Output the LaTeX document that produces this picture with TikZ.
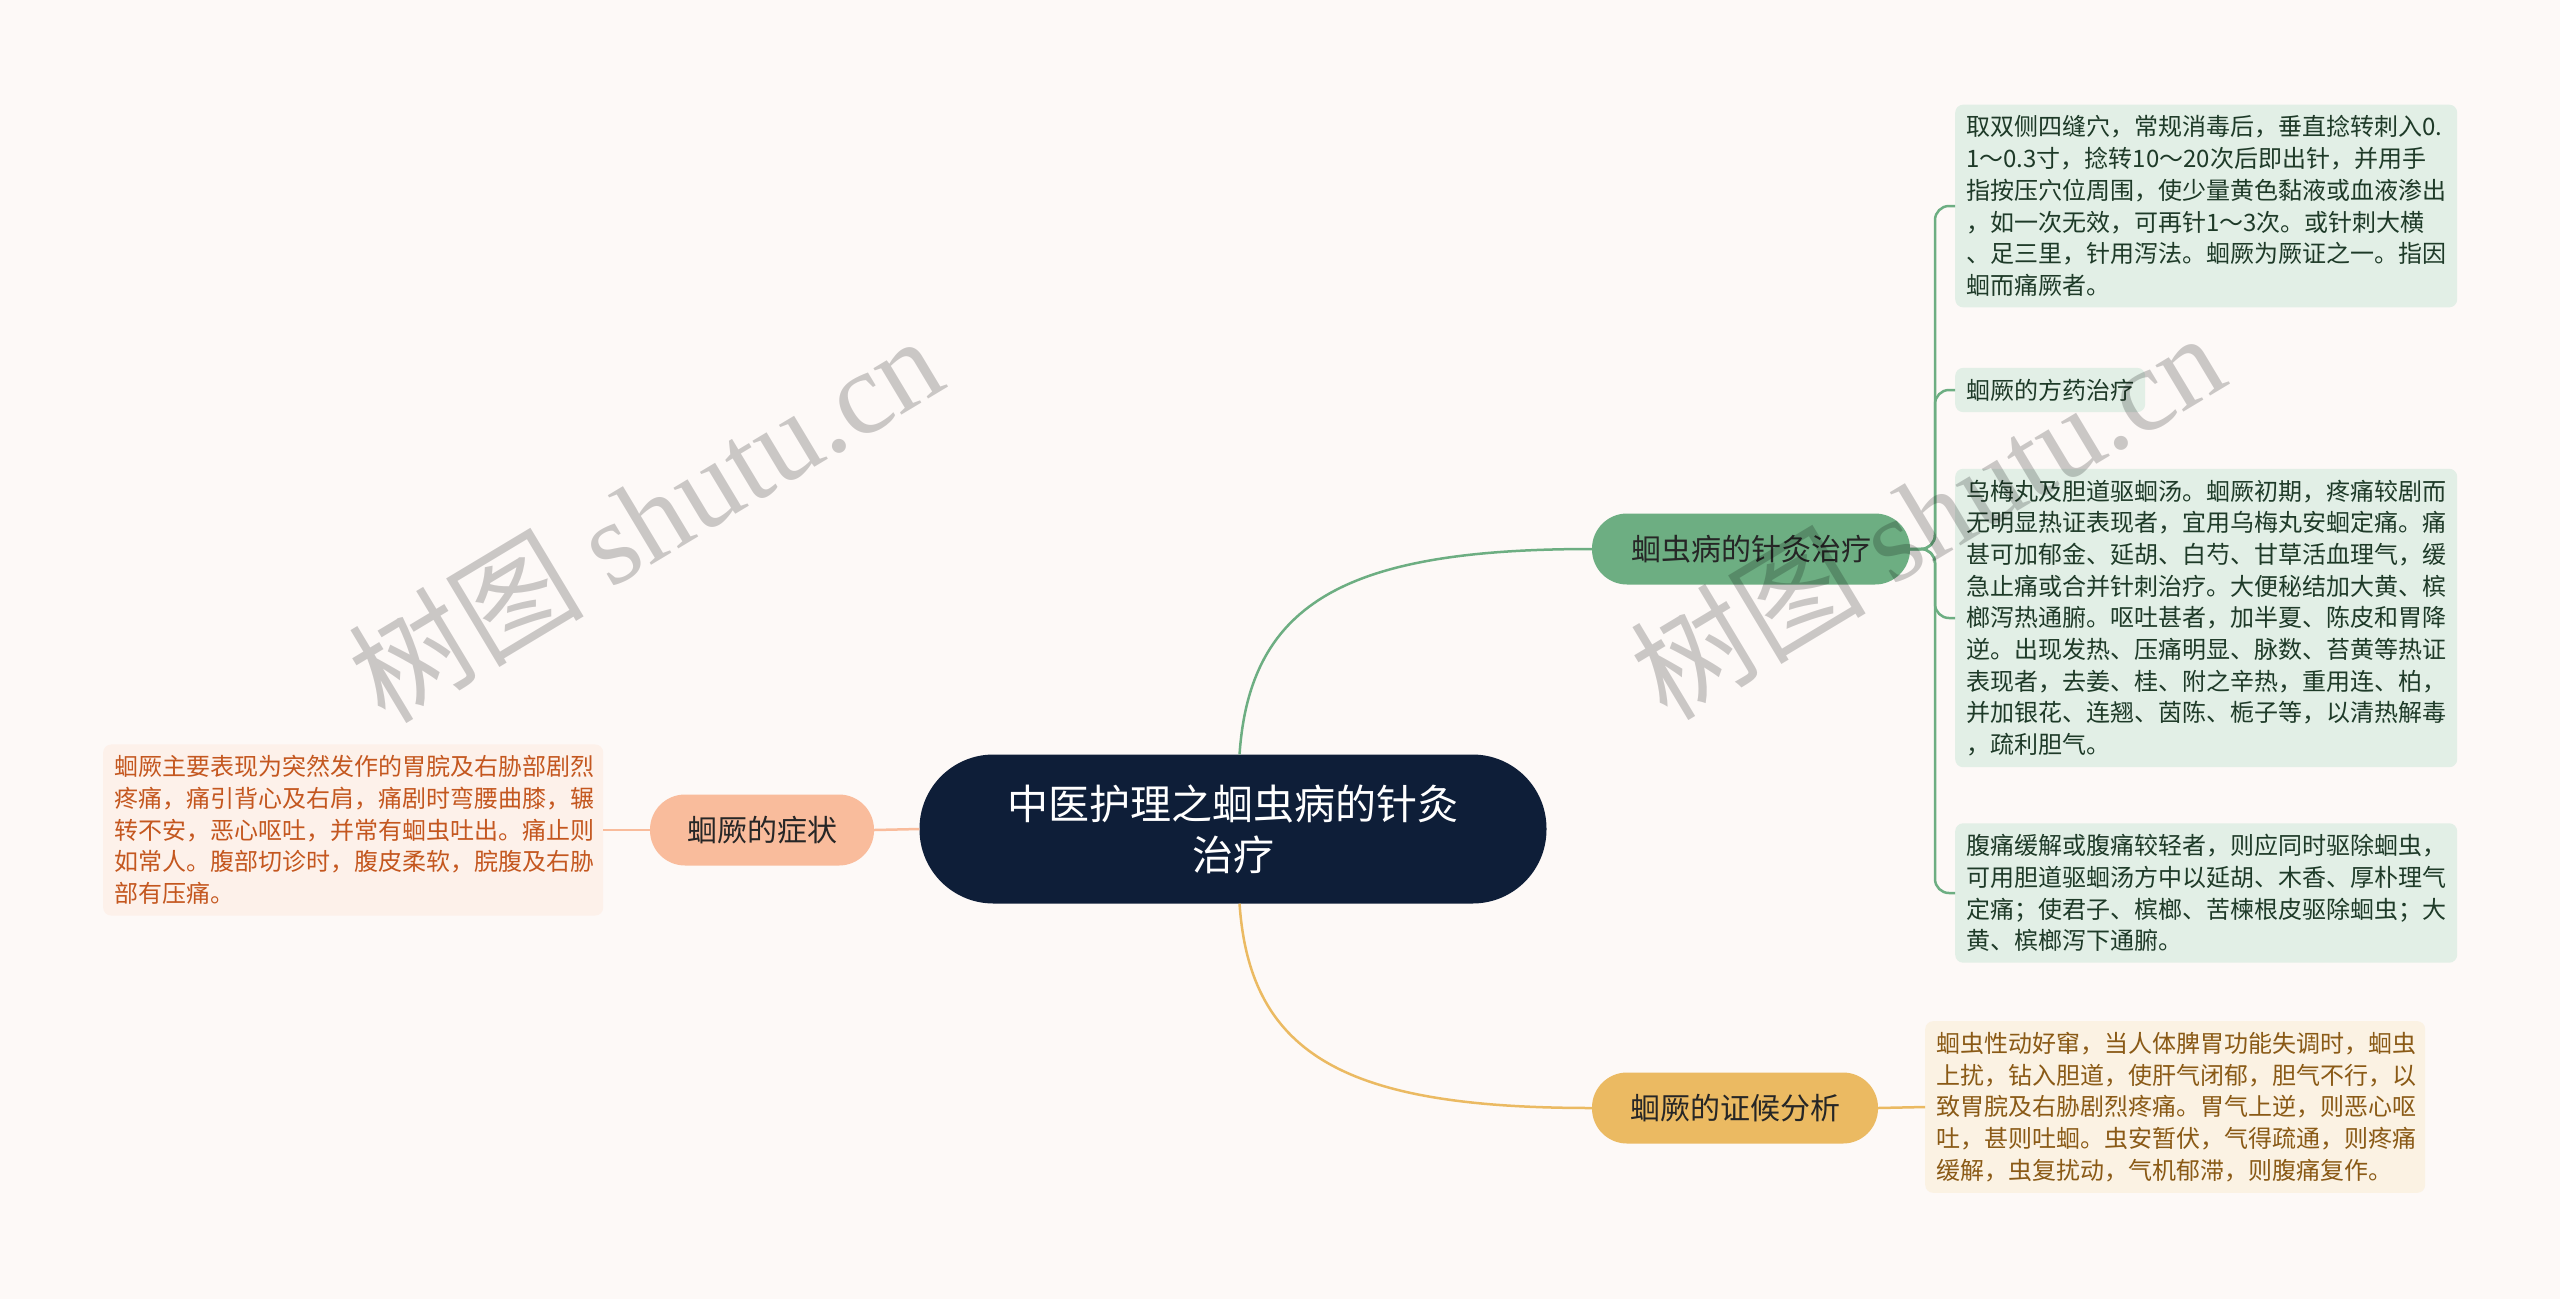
\documentclass[tikz,border=0pt]{standalone}
\usepackage{fontspec}
\setmainfont{Noto Sans CJK SC}
\newfontfamily\wmfont{Liberation Serif}

\definecolor{bgpaper}{HTML}{FDF9F7}
\definecolor{rootblue}{HTML}{0E1E38}
\definecolor{acugreen}{HTML}{6DAE82}
\definecolor{aculeaf}{HTML}{E2EFE6}
\definecolor{acutext}{HTML}{1E3A28}
\definecolor{syngold}{HTML}{EBBA62}
\definecolor{synleaf}{HTML}{FBF2E3}
\definecolor{syntext}{HTML}{8A5A16}
\definecolor{sympeach}{HTML}{F9BC9C}
\definecolor{symleaf}{HTML}{FDF1EA}
\definecolor{symtext}{HTML}{C4571F}

\begin{document}
\begin{tikzpicture}[x=1pt,y=-1pt,
	branch/.style={rounded corners=35pt,minimum height=71pt,inner xsep=0pt,font=\fontsize{30}{36}\selectfont},
	leaf/.style={rounded corners=8pt,align=left,anchor=west,inner xsep=11pt,inner ysep=11pt,font=\fontsize{24}{31.7}\selectfont},
	link/.style={line width=2.5pt},
	watermark/.style={rotate=31,text=black,text opacity=0.2,font=\fontsize{118}{118}\selectfont}]

	\useasboundingbox (0,0) rectangle (2560,1299);
	\fill[bgpaper] (0,0) rectangle (2560,1299);

	\node[fill=rootblue,text=white,rounded corners=74pt,minimum width=627pt,minimum height=149pt,align=center,font=\fontsize{41}{51}\selectfont] (root) at (1233,829) {中医护理之蛔虫病的针灸\\治疗};

	\node[branch,fill=acugreen,text=black!85,minimum width=318pt] (acu) at (1751,549) {蛔虫病的针灸治疗};
	\node[branch,fill=syngold,text=black!85,minimum width=286pt] (syn) at (1735,1108) {蛔厥的证候分析};
	\node[branch,fill=sympeach,text=black!85,minimum width=224pt] (sym) at (762,830) {蛔厥的症状};

	% acupuncture leaves
	\node[leaf,fill=aculeaf,text=acutext,text width=480pt] (t1) at (1955,206) {取双侧四缝穴，常规消毒后，垂直捻转刺入0.\\1～0.3寸，捻转10～20次后即出针，并用手\\指按压穴位周围，使少量黄色黏液或血液渗出\\，如一次无效，可再针1～3次。或针刺大横\\、足三里，针用泻法。蛔厥为厥证之一。指因\\蛔而痛厥者。};
	\node[leaf,fill=aculeaf,text=acutext] (t2) at (1955,390) {蛔厥的方药治疗};
	\node[leaf,fill=aculeaf,text=acutext,text width=480pt] (t3) at (1955,618) {乌梅丸及胆道驱蛔汤。蛔厥初期，疼痛较剧而\\无明显热证表现者，宜用乌梅丸安蛔定痛。痛\\甚可加郁金、延胡、白芍、甘草活血理气，缓\\急止痛或合并针刺治疗。大便秘结加大黄、槟\\榔泻热通腑。呕吐甚者，加半夏、陈皮和胃降\\逆。出现发热、压痛明显、脉数、苔黄等热证\\表现者，去姜、桂、附之辛热，重用连、柏，\\并加银花、连翘、茵陈、栀子等，以清热解毒\\，疏利胆气。};
	\node[leaf,fill=aculeaf,text=acutext,text width=480pt] (t4) at (1955,893) {腹痛缓解或腹痛较轻者，则应同时驱除蛔虫，\\可用胆道驱蛔汤方中以延胡、木香、厚朴理气\\定痛；使君子、槟榔、苦楝根皮驱除蛔虫；大\\黄、槟榔泻下通腑。};

	% syndrome leaf
	\node[leaf,fill=synleaf,text=syntext,text width=478pt] (g1) at (1925,1107) {蛔虫性动好窜，当人体脾胃功能失调时，蛔虫\\上扰，钻入胆道，使肝气闭郁，胆气不行，以\\致胃脘及右胁剧烈疼痛。胃气上逆，则恶心呕\\吐，甚则吐蛔。虫安暂伏，气得疏通，则疼痛\\缓解，虫复扰动，气机郁滞，则腹痛复作。};

	% symptom leaf
	\node[leaf,fill=symleaf,text=symtext,text width=478pt] (p1) at (103,830) {蛔厥主要表现为突然发作的胃脘及右胁部剧烈\\疼痛，痛引背心及右肩，痛剧时弯腰曲膝，辗\\转不安，恶心呕吐，并常有蛔虫吐出。痛止则\\如常人。腹部切诊时，腹皮柔软，脘腹及右胁\\部有压痛。};

	% connectors
	\draw[link,acugreen] (root.85) .. controls (1250,600) and (1350,549) .. (acu.west);
	\draw[link,syngold] (root.-85) .. controls (1250,1058) and (1350,1108) .. (syn.west);
	\draw[link,sympeach] (root.west) -- (sym.east);
	\draw[link,sympeach] (sym.west) -- (p1.east);
	\draw[link,syngold] (syn.east) -- (g1.west);
	\coordinate (acubus) at (1935,549);
	\foreach \t in {t1,t2,t3,t4}
		\draw[link,acugreen,rounded corners=14pt] (acu.east) -- (acubus) |- (\t.west);

	% watermark
	\node[watermark] (wm1) at (645,517) {树图 {\wmfont shutu.cn}};
	\node[watermark] (wm2) at (1927,514) {树图 {\wmfont shutu.cn}};
\end{tikzpicture}
\end{document}
